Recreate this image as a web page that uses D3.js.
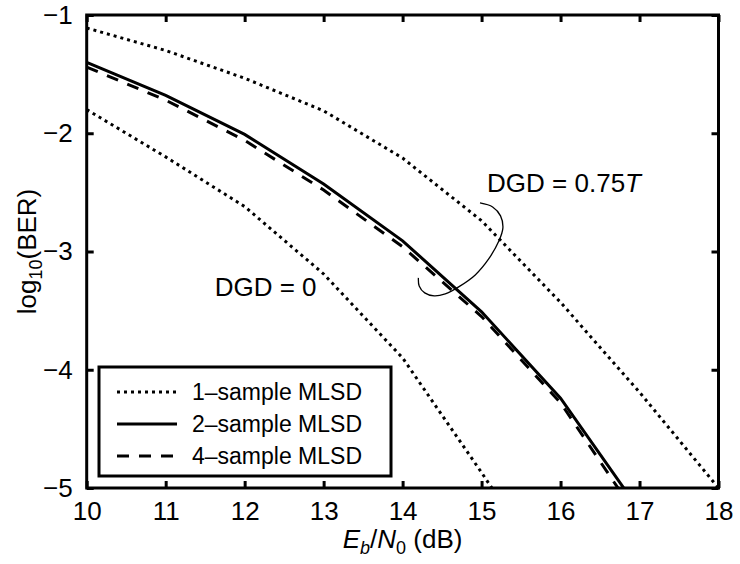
<!DOCTYPE html>
<html><head><meta charset="utf-8">
<script src="https://cdn.jsdelivr.net/npm/d3@7"></script>
<style>
html,body{margin:0;padding:0;background:#fff;}
svg{display:block;font-family:"Liberation Sans",Arial,sans-serif;}
</style></head>
<body>
<svg id="chart" width="740" height="564"></svg>
<script>
// ---- data ----
const ebn0 = [10, 11, 12, 13, 14, 15, 16, 17, 18];
const oneSampleDGD075 = [-1.11, -1.30, -1.535, -1.81, -2.21, -2.74, -3.43, -4.19, -5.00];
const twoSampleDGD075 = [-1.40, -1.68, -2.01, -2.43, -2.91, -3.51, -4.24, -5.19];
const fourSampleDGD075 = [-1.44, -1.72, -2.06, -2.48, -2.96, -3.55, -4.28, -5.27];
const oneSampleDGD0 = [-1.80, -2.20, -2.62, -3.19, -3.90, -4.87, -5.87];
const xTicks = [10, 11, 12, 13, 14, 15, 16, 17, 18];
const yTicks = [-1, -2, -3, -4, -5];
const legendLabels = ["1\u2013sample MLSD", "2\u2013sample MLSD", "4\u2013sample MLSD"];
// annotation ellipse arc (data coordinates)
const arcX = [14.98, 15.14, 15.24, 15.27, 15.22, 15.09, 14.92, 14.71, 14.54, 14.40, 14.28, 14.21, 14.20];
const arcY = [-2.589, -2.623, -2.699, -2.800, -2.910, -3.063, -3.198, -3.299, -3.358, -3.375, -3.350, -3.291, -3.223];

// ---- layout ----
const svg = d3.select("#chart");
const L = 86.7, R = 718.5, T = 15, B = 488;
const x = d3.scaleLinear().domain([10, 18]).range([L, R]);
const y = d3.scaleLinear().domain([-5, -1]).range([B, T]);

svg.append("defs").append("clipPath").attr("id", "clip")
  .append("rect").attr("x", L).attr("y", T).attr("width", R - L).attr("height", B - T);

const line = d3.line().x(d => x(d[0])).y(d => y(d[1]));
const series = [
  {vals: oneSampleDGD075, dash: "3,4"},
  {vals: oneSampleDGD0, dash: "3,4"},
  {vals: fourSampleDGD075, dash: "12,10"},
  {vals: twoSampleDGD075, dash: null}
];
const g = svg.append("g").attr("clip-path", "url(#clip)");
series.forEach(s => {
  g.append("path")
    .attr("d", line(s.vals.map((v, i) => [ebn0[i], v])))
    .attr("fill", "none").attr("stroke", "#000").attr("stroke-width", 3)
    .attr("stroke-dasharray", s.dash).attr("stroke-linejoin", "miter");
});

// annotation arc
svg.append("path")
  .attr("d", d3.line().curve(d3.curveCatmullRom).x(d => x(d[0])).y(d => y(d[1]))(arcX.map((v, i) => [v, arcY[i]])))
  .attr("fill", "none").attr("stroke", "#000").attr("stroke-width", 1.3);

// annotation texts
const t1 = svg.append("text").attr("x", x(15.07)).attr("y", y(-2.50))
  .attr("font-size", 26).attr("fill", "#000");
t1.append("tspan").text("DGD = 0.75");
t1.append("tspan").attr("font-style", "italic").text("T");
svg.append("text").attr("x", x(11.62)).attr("y", y(-3.38))
  .attr("font-size", 26).attr("fill", "#000").text("DGD = 0");

// axes
const ax = svg.append("g");
const xb = ax.append("g").attr("transform", `translate(0,${B})`)
  .call(d3.axisBottom(x).tickValues(xTicks).tickSize(-7).tickPadding(14).tickFormat(d3.format("d")));
const xt = ax.append("g").attr("transform", `translate(0,${T})`)
  .call(d3.axisTop(x).tickValues(xTicks).tickSize(-7).tickFormat(""));
const yl = ax.append("g").attr("transform", `translate(${L},0)`)
  .call(d3.axisLeft(y).tickValues(yTicks).tickSize(-7).tickPadding(14).tickFormat(d => "\u2212" + Math.abs(d)));
const yr = ax.append("g").attr("transform", `translate(${R},0)`)
  .call(d3.axisRight(y).tickValues(yTicks).tickSize(-7).tickFormat(""));
ax.selectAll(".domain").remove();
ax.selectAll(".tick line").attr("stroke", "#000").attr("stroke-width", 3);
ax.selectAll(".tick text").attr("font-size", 26).attr("fill", "#000")
  .attr("font-family", "Liberation Sans, Arial, sans-serif");
xb.selectAll(".tick text").attr("dy", "0.71em");
svg.append("rect").attr("x", L).attr("y", T).attr("width", R - L).attr("height", B - T)
  .attr("fill", "none").attr("stroke", "#000").attr("stroke-width", 3);

// axis titles
const xl = svg.append("text").attr("x", (L + R) / 2).attr("y", 548)
  .attr("text-anchor", "middle").attr("font-size", 26).attr("fill", "#000");
xl.append("tspan").attr("font-style", "italic").text("E");
xl.append("tspan").attr("font-style", "italic").attr("font-size", 18).attr("dy", 6).text("b");
xl.append("tspan").attr("dy", -6).text("/");
xl.append("tspan").attr("font-style", "italic").text("N");
xl.append("tspan").attr("font-size", 18).attr("dy", 6).text("0");
xl.append("tspan").attr("dy", -6).text(" (dB)");

const ylab = svg.append("text").attr("transform", `translate(36,${(T + B) / 2}) rotate(-90)`)
  .attr("text-anchor", "middle").attr("font-size", 26).attr("fill", "#000");
ylab.append("tspan").text("log");
ylab.append("tspan").attr("font-size", 18).attr("dy", 6).text("10");
ylab.append("tspan").attr("dy", -6).text("(BER)");

// legend
const lg = svg.append("g");
lg.append("rect").attr("x", 99).attr("y", 367).attr("width", 292).attr("height", 109)
  .attr("fill", "#fff").attr("stroke", "#000").attr("stroke-width", 3);
const legDash = ["3,4", null, "12,10"];
legendLabels.forEach((lab, i) => {
  const cy = 392 + i * 32;
  lg.append("line").attr("x1", 117).attr("x2", 177).attr("y1", cy).attr("y2", cy)
    .attr("stroke", "#000").attr("stroke-width", 3).attr("stroke-dasharray", legDash[i]);
  lg.append("text").attr("x", 192).attr("y", cy).attr("dy", "0.35em")
    .attr("font-size", 23).attr("fill", "#000").text(lab);
});
</script>
</body></html>
